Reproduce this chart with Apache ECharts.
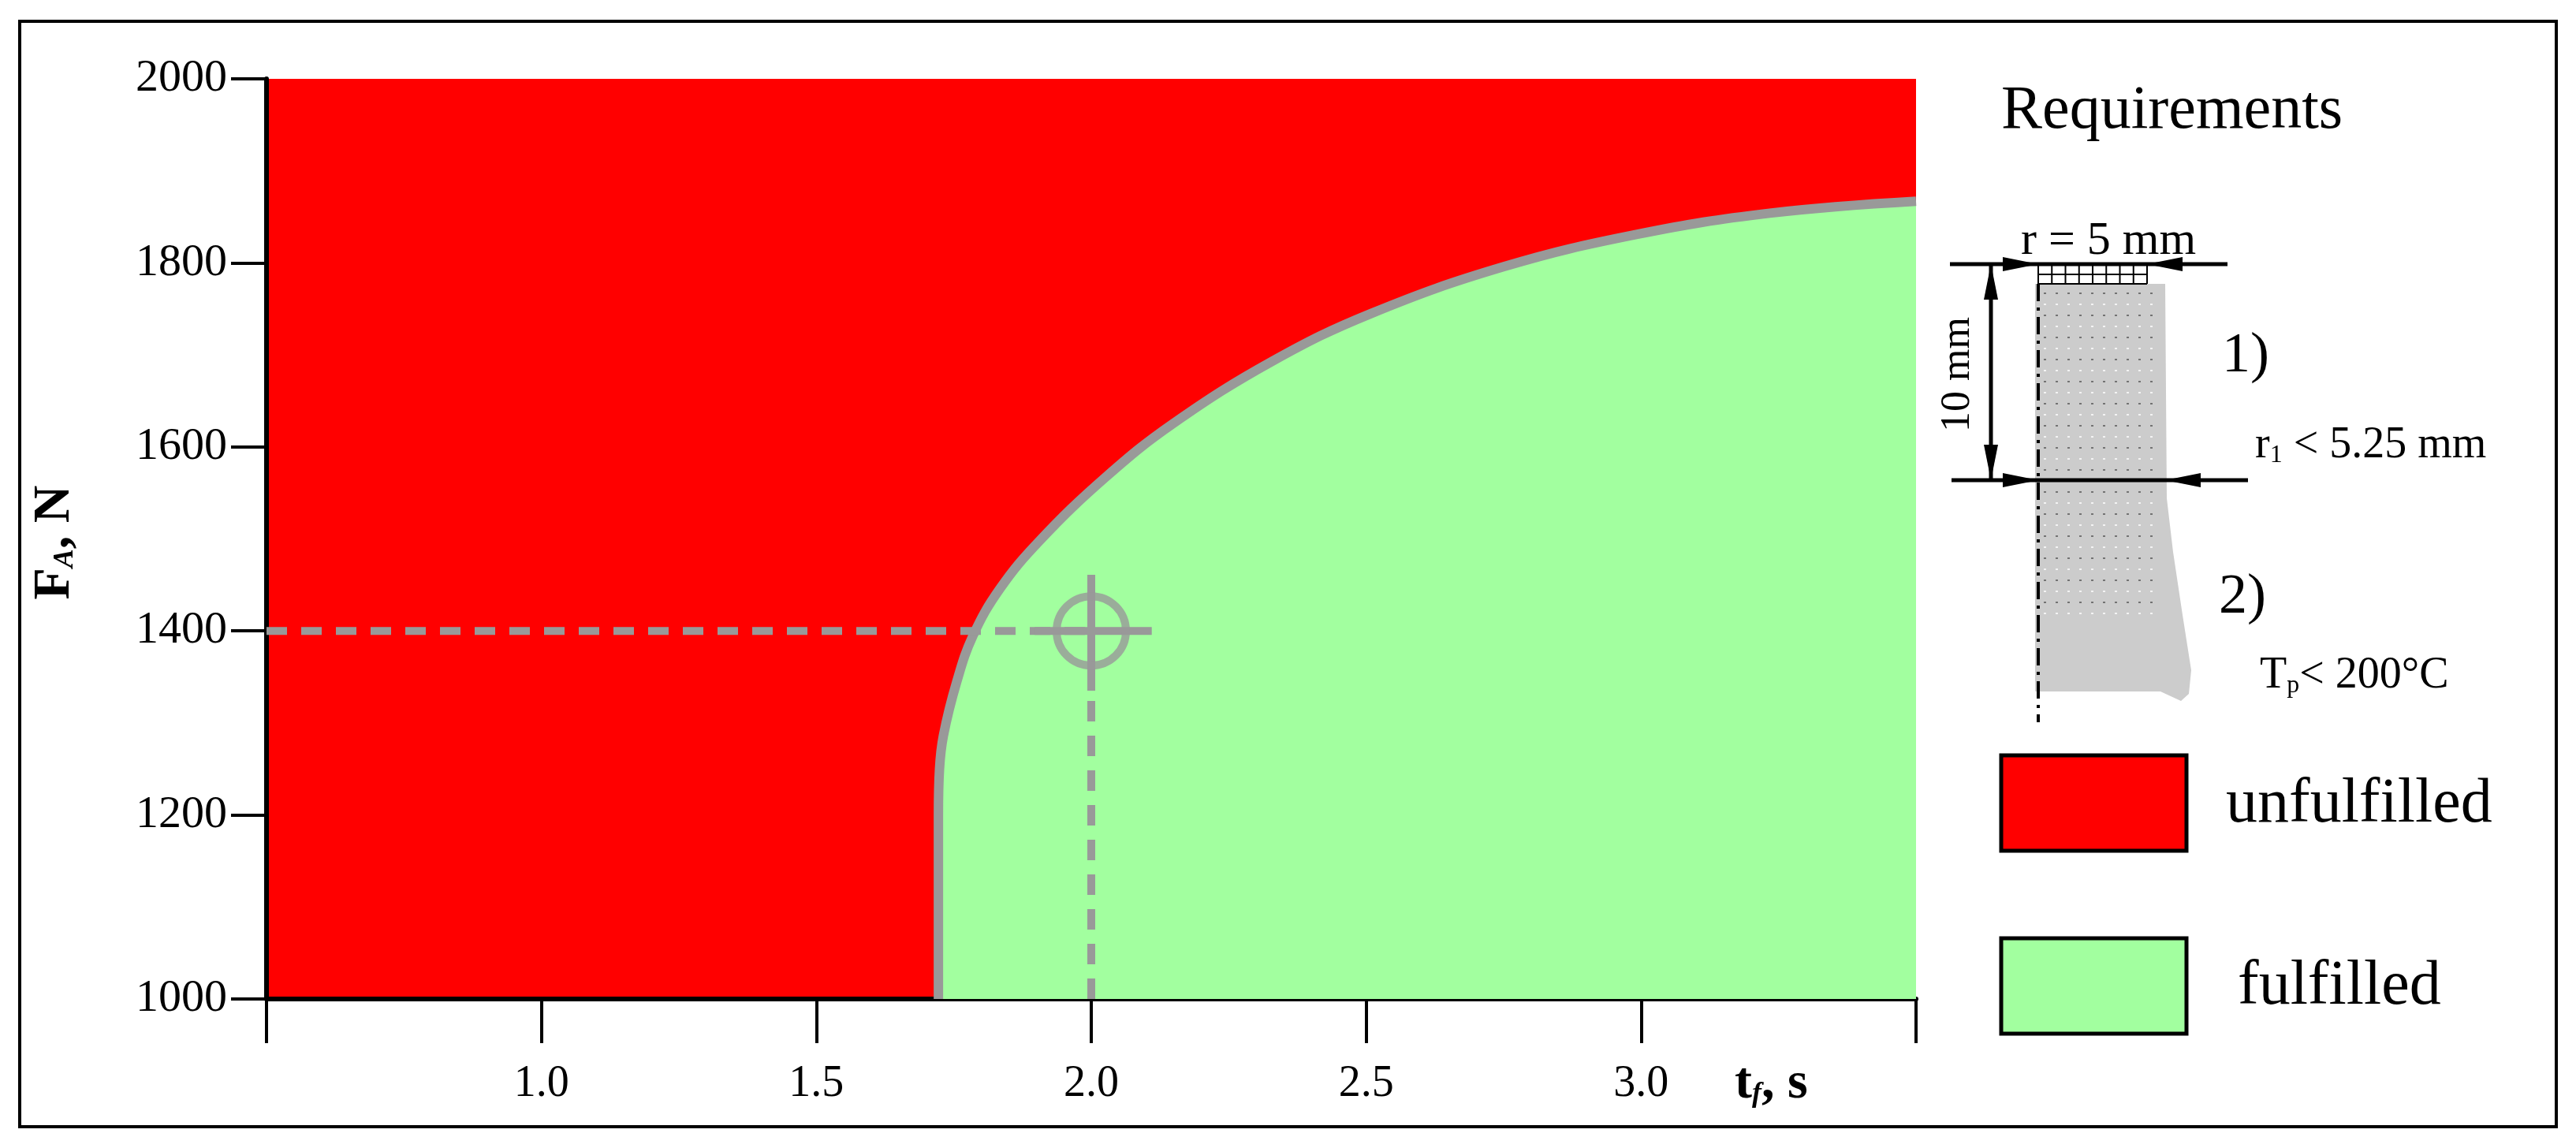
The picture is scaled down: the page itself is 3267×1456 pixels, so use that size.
<!DOCTYPE html>
<html>
<head>
<meta charset="utf-8">
<script src="https://cdn.jsdelivr.net/npm/echarts@6/dist/echarts.min.js"></script>
<style>html,body{margin:0;padding:0;background:#fff}#c{width:3267px;height:1456px}</style>
</head>
<body>
<div id="c"></div>
<script>
// boundary between unfulfilled and fulfilled region
var boundaryT = [1.722, 1.722, 1.724, 1.731, 1.755, 1.785, 1.834, 1.906, 2.026, 2.148, 2.329, 2.509, 2.751, 2.993, 3.234, 3.5];
var boundaryF = [1000, 1200, 1250, 1286, 1344, 1395, 1446, 1498, 1567, 1625, 1693, 1745, 1796, 1831, 1854, 1867];
var opPoint = [2.0, 1400];
var xTicks = [1.0, 1.5, 2.0, 2.5, 3.0];

var serif = '"Liberation Serif", "DejaVu Serif", serif';
var black = '#000';
var grey = '#999999';

var curve = boundaryT.map(function (t, i) { return [t, boundaryF[i]]; });

var chart = echarts.init(document.getElementById('c'));

function txt(x, y, text, size, extra) {
    var s = { text: text, x: x, y: y, fontSize: size, fontFamily: serif, fill: black, textVerticalAlign: 'middle' };
    for (var k in extra) s[k] = extra[k];
    return { type: 'text', style: s };
}
function line(x1, y1, x2, y2, w, dash) {
    return { type: 'line', shape: { x1: x1, y1: y1, x2: x2, y2: y2 }, style: { stroke: black, lineWidth: w, lineDash: dash } };
}
function arrow(tipX, tipY, dir) {
    // dir: 1 pointing right, -1 left, 2 down, -2 up
    var L = 45, H = 9, p;
    if (dir === 1) p = [[tipX, tipY], [tipX - L, tipY - H], [tipX - L, tipY + H]];
    else if (dir === -1) p = [[tipX, tipY], [tipX + L, tipY - H], [tipX + L, tipY + H]];
    else if (dir === 2) p = [[tipX, tipY], [tipX - H, tipY - L], [tipX + H, tipY - L]];
    else p = [[tipX, tipY], [tipX - H, tipY + L], [tipX + H, tipY + L]];
    return { type: 'polygon', shape: { points: p }, style: { fill: black } };
}

var mesh = [];
for (var i = 0; i <= 8; i++) mesh.push(line(2585 + i * 17.25, 335, 2585 + i * 17.25, 360, 2));
mesh.push(line(2585, 348, 2723, 348, 2));
mesh.push(line(2585, 360, 2723, 360, 2));

// dotted inner grid of the specimen
var dots = [];
for (var r = 0; r < 30; r++) {
    dots.push({ type: 'line', shape: { x1: 2592, y1: 372 + r * 14, x2: 2735, y2: 372 + r * 14 },
        style: { stroke: r % 2 ? '#ffffff' : '#555555', lineWidth: 1.5, lineDash: [3, 12] } });
}

var graphics = [
    { type: 'rect', shape: { x: 25, y: 27, width: 3217, height: 1402 }, style: { fill: 'none', stroke: black, lineWidth: 4 } },
    txt(2538, 142, 'Requirements', 78),
    // specimen body
    { type: 'polygon', shape: { points: [[2581, 360], [2746, 360], [2748, 632], [2756, 700], [2768, 780], [2779, 850], [2776, 880], [2766, 889], [2740, 877], [2581, 877]] },
      style: { fill: '#cccccc' } }
].concat(dots).concat([
    line(2585, 360, 2585, 916, 4, [22, 8, 4, 8]),
    line(2473, 335, 2825, 335, 5),
    arrow(2585, 335, 1), arrow(2723, 335, -1),
    line(2475, 609, 2851, 609, 5),
    arrow(2585, 609, 1), arrow(2746, 609, -1),
    line(2525, 335, 2525, 609, 5),
    arrow(2525, 335, -2), arrow(2525, 609, 2),
    txt(2674, 306, 'r = 5 mm', 60, { textAlign: 'center' }),
    { type: 'text', x: 2483, y: 475, rotation: Math.PI / 2,
      style: { text: '10 mm', fontSize: 52, fontFamily: serif, fill: black, textAlign: 'center', textVerticalAlign: 'middle' } },
    txt(2818, 452, '1)', 72),
    { type: 'text', x: 2860, y: 565, style: { text: '{a|r}{s|1}{a| < 5.25 mm}', fontFamily: serif, fill: black, textVerticalAlign: 'middle',
      rich: { a: { fontSize: 56, fontFamily: serif }, s: { fontSize: 32, fontFamily: serif, padding: [26, 0, 0, 0] } } } },
    txt(2814, 758, '2)', 72),
    { type: 'text', x: 2866, y: 857, style: { text: '{a|T}{s|p}{a|< 200°C}', fontFamily: serif, fill: black, textVerticalAlign: 'middle',
      rich: { a: { fontSize: 56, fontFamily: serif }, s: { fontSize: 32, fontFamily: serif, padding: [26, 0, 0, 0] } } } },
    // legend
    { type: 'rect', shape: { x: 2538, y: 958, width: 235, height: 121 }, style: { fill: '#ff0000', stroke: black, lineWidth: 5 } },
    txt(2823, 1021, 'unfulfilled', 80),
    { type: 'rect', shape: { x: 2538, y: 1190, width: 235, height: 121 }, style: { fill: '#a2ff9f', stroke: black, lineWidth: 5 } },
    txt(2838, 1252, 'fulfilled', 80),
    // axis titles
    { type: 'text', x: 70, y: 688, rotation: Math.PI / 2,
      style: { text: '{b|F}{s|A}{b|, N}', textAlign: 'center', textVerticalAlign: 'middle',
      rich: { b: { fontSize: 66, fontWeight: 'bold', fontFamily: serif }, s: { fontSize: 36, fontWeight: 'bold', fontStyle: 'italic', fontFamily: serif, padding: [26, 0, 0, 0] } } } },
    { type: 'text', x: 2200, y: 1375,
      style: { text: '{b|t}{s|f}{b|, s}', textVerticalAlign: 'middle',
      rich: { b: { fontSize: 66, fontWeight: 'bold', fontFamily: serif }, s: { fontSize: 36, fontWeight: 'bold', fontStyle: 'italic', fontFamily: serif, padding: [26, 0, 0, 0] } } } }
]).concat(mesh);

chart.setOption({
    animation: false,
    grid: { left: 338, right: 837, top: 100, bottom: 189, show: true, backgroundColor: '#ff0000', borderWidth: 0 },
    xAxis: {
        type: 'value', min: 0.5, max: 3.5, interval: 0.5,
        axisLine: { lineStyle: { color: black, width: 6 } },
        axisTick: { show: true, length: 56, inside: false, lineStyle: { color: black, width: 4 } },
        axisLabel: { margin: 80, fontSize: 56, fontFamily: serif, color: black,
            formatter: function (v) { return xTicks.indexOf(v) >= 0 ? v.toFixed(1) : ''; } },
        splitLine: { show: false }
    },
    yAxis: {
        type: 'value', min: 1000, max: 2000, interval: 200,
        axisLine: { show: true, lineStyle: { color: black, width: 6 } },
        axisTick: { show: true, length: 45, lineStyle: { color: black, width: 4 } },
        axisLabel: { margin: 50, fontSize: 58, fontFamily: serif, color: black,
            formatter: function (v) { return String(v); } },
        splitLine: { show: false }
    },
    series: [
        {
            type: 'line', data: curve, symbol: 'none', smooth: 0.4, z: 2,
            lineStyle: { color: grey, width: 12 },
            areaStyle: { color: '#a2ff9f', opacity: 1, origin: 'start' }
        },
        {
            type: 'line', symbol: 'none', z: 3,
            data: [[0.5, opPoint[1]], [opPoint[0], opPoint[1]]],
            lineStyle: { color: grey, width: 10, type: [26, 18] }
        },
        {
            type: 'line', symbol: 'none', z: 3,
            data: [[opPoint[0], 1000], [opPoint[0], opPoint[1]]],
            lineStyle: { color: grey, width: 10, type: [26, 18] }
        },
        {
            type: 'line', symbol: 'none', z: 4,
            data: [[1.897, opPoint[1]], [2.11, opPoint[1]]],
            lineStyle: { color: grey, width: 10 }
        },
        {
            type: 'line', symbol: 'none', z: 4,
            data: [[opPoint[0], 1335], [opPoint[0], 1461]],
            lineStyle: { color: grey, width: 10 }
        },
        {
            type: 'scatter', data: [opPoint], symbol: 'circle', symbolSize: 88, z: 5,
            itemStyle: { color: 'rgba(0,0,0,0)', borderColor: grey, borderWidth: 10 }
        }
    ],
    graphic: graphics
});
</script>
</body>
</html>
